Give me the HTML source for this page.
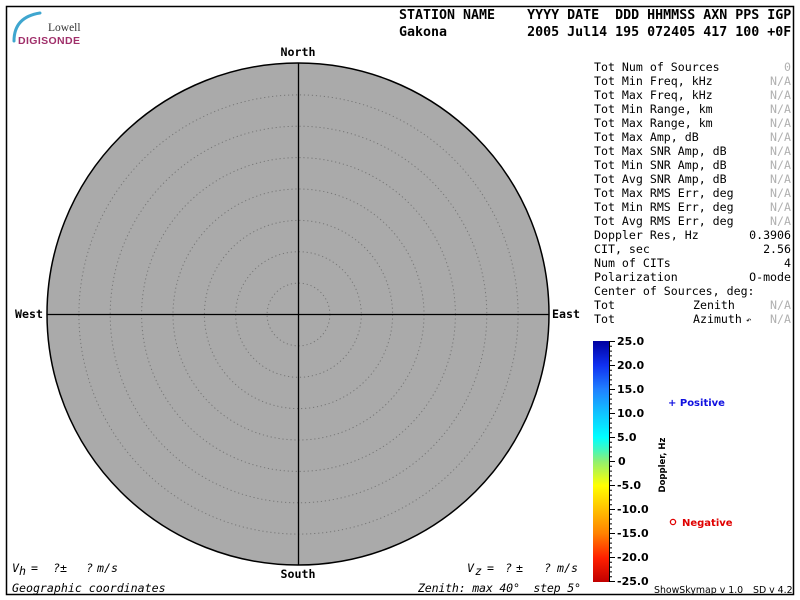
<!DOCTYPE html>
<html><head><meta charset="utf-8"><style>
html,body{margin:0;padding:0;background:#fff;}
svg{display:block;}
text{white-space:pre;}
.mono{font-family:"DejaVu Sans Mono","Liberation Mono",monospace;}
.hdr{font-family:"DejaVu Sans Mono","Liberation Mono",monospace;font-weight:bold;font-size:13.3px;fill:#000;}
.pan{font-family:"DejaVu Sans Mono","Liberation Mono",monospace;font-size:11.6px;fill:#000;}
.na{fill:#b0b0b0;}
.cmp{font-family:"DejaVu Sans Mono","Liberation Mono",monospace;font-weight:bold;font-size:11.6px;fill:#000;}
.cb{font-family:"DejaVu Sans","Liberation Sans",sans-serif;font-weight:bold;font-size:11px;fill:#000;}
.it{font-family:"DejaVu Sans Mono","Liberation Mono",monospace;font-style:italic;font-size:11.6px;fill:#000;}
</style></head><body>
<svg width="800" height="600" viewBox="0 0 800 600" xmlns="http://www.w3.org/2000/svg">
<defs>
<linearGradient id="cbg" x1="0" y1="0" x2="0" y2="1">
<stop offset="0" stop-color="#0000a0"/>
<stop offset="0.1" stop-color="#1030f0"/>
<stop offset="0.2" stop-color="#2080ff"/>
<stop offset="0.3" stop-color="#10c4ff"/>
<stop offset="0.4" stop-color="#00ffff"/>
<stop offset="0.45" stop-color="#40f8c0"/>
<stop offset="0.5" stop-color="#90f070"/>
<stop offset="0.6" stop-color="#ffff00"/>
<stop offset="0.7" stop-color="#ffc000"/>
<stop offset="0.8" stop-color="#ff8000"/>
<stop offset="0.9" stop-color="#ff2000"/>
<stop offset="1" stop-color="#c00000"/>
</linearGradient>
</defs>
<rect x="0" y="0" width="800" height="600" fill="#fff"/>
<rect x="6.5" y="6.5" width="787" height="588" fill="none" stroke="#000" stroke-width="1.5"/>

<!-- logo -->
<path d="M14,41 Q14,17 40,13" fill="none" stroke="#3fa6cf" stroke-width="3" stroke-linecap="round"/>
<text x="48" y="31" font-family="Liberation Serif,serif" font-size="11.5" fill="#333">Lowell</text>
<text x="18" y="44" font-family="Liberation Sans,sans-serif" font-weight="bold" font-size="10.5" fill="#a02f6a" textLength="62">DIGISONDE</text>

<!-- header -->
<text class="hdr" x="399" y="19">STATION NAME    YYYY DATE  DDD HHMMSS AXN PPS IGP</text>
<text class="hdr" x="399" y="36">Gakona          2005 Jul14 195 072405 417 100 +0F</text>

<!-- polar plot -->
<circle cx="298" cy="314" r="251" fill="#aaaaaa" stroke="none"/>
<g fill="none" stroke="#777" stroke-width="1" stroke-dasharray="1.2 2.8">
<circle cx="298.5" cy="314.5" r="31.4"/>
<circle cx="298.5" cy="314.5" r="62.8"/>
<circle cx="298.5" cy="314.5" r="94.1"/>
<circle cx="298.5" cy="314.5" r="125.5"/>
<circle cx="298.5" cy="314.5" r="156.9"/>
<circle cx="298.5" cy="314.5" r="188.3"/>
<circle cx="298.5" cy="314.5" r="219.6"/>
</g>
<circle cx="298" cy="314" r="251" fill="none" stroke="#000" stroke-width="1.5"/>
<line x1="298.5" y1="63" x2="298.5" y2="565" stroke="#000" stroke-width="1.3"/>
<line x1="47" y1="314.5" x2="549" y2="314.5" stroke="#000" stroke-width="1.3"/>

<text class="cmp" x="298" y="56" text-anchor="middle">North</text>
<text class="cmp" x="298" y="578" text-anchor="middle">South</text>
<text class="cmp" x="15" y="318">West</text>
<text class="cmp" x="552" y="318">East</text>

<!-- bottom texts -->
<text class="it" x="12" y="572">V</text>
<text class="it" x="19" y="575" font-size="10">h</text>
<text class="it" x="31" y="572">=</text>
<text class="it" x="53" y="572">?</text>
<text class="it" x="60" y="572">±</text>
<text class="it" x="86" y="572">?</text>
<text class="it" x="97" y="572">m/s</text>
<text class="it" x="12" y="592">Geographic coordinates</text>

<text class="it" x="467" y="572">V</text>
<text class="it" x="475" y="575" font-size="10">z</text>
<text class="it" x="487" y="572">=</text>
<text class="it" x="505" y="572">?</text>
<text class="it" x="516" y="572">±</text>
<text class="it" x="544" y="572">?</text>
<text class="it" x="557" y="572">m/s</text>
<text class="it" x="418" y="592" textLength="163">Zenith: max 40°  step 5°</text>

<!-- right panel -->
<g class="pan">
<text x="594" y="71">Tot Num of Sources</text>
<text x="594" y="85">Tot Min Freq, kHz</text>
<text x="594" y="99">Tot Max Freq, kHz</text>
<text x="594" y="113">Tot Min Range, km</text>
<text x="594" y="127">Tot Max Range, km</text>
<text x="594" y="141">Tot Max Amp, dB</text>
<text x="594" y="155">Tot Max SNR Amp, dB</text>
<text x="594" y="169">Tot Min SNR Amp, dB</text>
<text x="594" y="183">Tot Avg SNR Amp, dB</text>
<text x="594" y="197">Tot Max RMS Err, deg</text>
<text x="594" y="211">Tot Min RMS Err, deg</text>
<text x="594" y="225">Tot Avg RMS Err, deg</text>
<text x="594" y="239">Doppler Res, Hz</text>
<text x="594" y="253">CIT, sec</text>
<text x="594" y="267">Num of CITs</text>
<text x="594" y="281">Polarization</text>
<text x="594" y="295">Center of Sources, deg:</text>
<text x="594" y="309">Tot</text>
<text x="693" y="309">Zenith</text>
<text x="594" y="323">Tot</text>
<text x="693" y="323">Azimuth</text>
<text x="746" y="323" font-size="9">↶</text>
</g>
<g class="pan" text-anchor="end">
<text class="na" x="791" y="71">0</text>
<text class="na" x="791" y="85">N/A</text>
<text class="na" x="791" y="99">N/A</text>
<text class="na" x="791" y="113">N/A</text>
<text class="na" x="791" y="127">N/A</text>
<text class="na" x="791" y="141">N/A</text>
<text class="na" x="791" y="155">N/A</text>
<text class="na" x="791" y="169">N/A</text>
<text class="na" x="791" y="183">N/A</text>
<text class="na" x="791" y="197">N/A</text>
<text class="na" x="791" y="211">N/A</text>
<text class="na" x="791" y="225">N/A</text>
<text x="791" y="239">0.3906</text>
<text x="791" y="253">2.56</text>
<text x="791" y="267">4</text>
<text x="791" y="281">O-mode</text>
<text class="na" x="791" y="309">N/A</text>
<text class="na" x="791" y="323">N/A</text>
</g>

<!-- colorbar -->
<rect x="593" y="341" width="16" height="241" fill="url(#cbg)"/>
<line x1="609.5" y1="341" x2="609.5" y2="582" stroke="#000" stroke-width="1"/>
<g stroke="#000" stroke-width="1">
<path d="M609,341.5h6M609,365.5h6M609,389.5h6M609,413.5h6M609,437.5h6M609,461.5h6M609,485.5h6M609,509.5h6M609,533.5h6M609,557.5h6M609,581.5h6"/>
<path d="M609,346.3h3M609,351.1h3M609,355.9h3M609,360.7h3
M609,370.3h3M609,375.1h3M609,379.9h3M609,384.7h3
M609,394.3h3M609,399.1h3M609,403.9h3M609,408.7h3
M609,418.3h3M609,423.1h3M609,427.9h3M609,432.7h3
M609,442.3h3M609,447.1h3M609,451.9h3M609,456.7h3
M609,466.3h3M609,471.1h3M609,475.9h3M609,480.7h3
M609,490.3h3M609,495.1h3M609,499.9h3M609,504.7h3
M609,514.3h3M609,519.1h3M609,523.9h3M609,528.7h3
M609,538.3h3M609,543.1h3M609,547.9h3M609,552.7h3
M609,562.3h3M609,567.1h3M609,571.9h3M609,576.7h3"/>
</g>
<g class="cb">
<text x="617" y="345">25.0</text>
<text x="617" y="369">20.0</text>
<text x="617" y="393">15.0</text>
<text x="617" y="417">10.0</text>
<text x="617" y="441">5.0</text>
<text x="618" y="465">0</text>
<text x="617" y="489">-5.0</text>
<text x="617" y="513">-10.0</text>
<text x="617" y="537">-15.0</text>
<text x="617" y="561">-20.0</text>
<text x="617" y="585">-25.0</text>
</g>
<text transform="translate(665,465) rotate(-90)" text-anchor="middle" font-family="DejaVu Sans,Liberation Sans,sans-serif" font-weight="bold" font-size="8.5" fill="#000">Doppler, Hz</text>

<text x="668" y="406" font-family="DejaVu Sans,Liberation Sans,sans-serif" font-weight="bold" font-size="10" fill="#1010e0">+ Positive</text>
<circle cx="673" cy="522" r="2.6" fill="none" stroke="#e00000" stroke-width="1.3"/>
<text x="682" y="526" font-family="DejaVu Sans,Liberation Sans,sans-serif" font-weight="bold" font-size="10" fill="#e00000">Negative</text>

<text x="654" y="593" font-family="DejaVu Sans,Liberation Sans,sans-serif" font-size="9.4" fill="#000">ShowSkymap v 1.0</text>
<text x="753" y="593" font-family="DejaVu Sans,Liberation Sans,sans-serif" font-size="9.4" fill="#000">SD v 4.2</text>
</svg>
</body></html>
